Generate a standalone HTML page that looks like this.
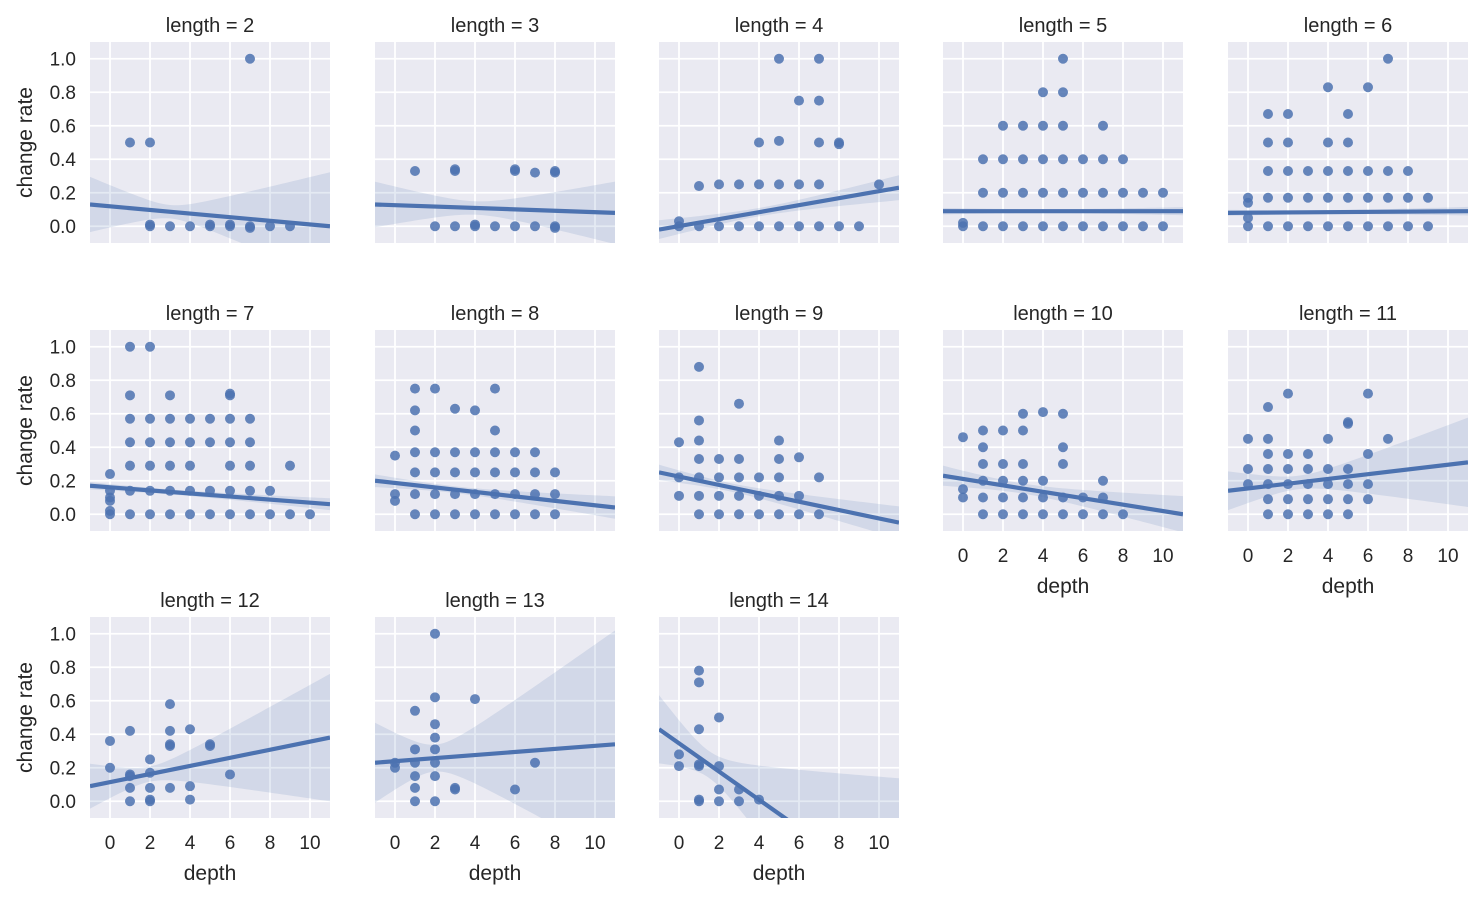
<!DOCTYPE html>
<html><head><meta charset="utf-8">
<style>
html,body{margin:0;padding:0;background:#fff;width:1483px;height:900px;overflow:hidden;}
svg{display:block;font-family:"Liberation Sans",Arial,sans-serif;}
</style></head>
<body>
<svg id="chart" width="1483" height="900" viewBox="0 0 1483 900"></svg>
<script>
// ---- data ----
const panelLengths = [2,3,4,5,6,7,8,9,10,11,12,13,14];
const xTicks = [0,2,4,6,8,10];
const yTicks = [0.0,0.2,0.4,0.6,0.8,1.0];
const yTickLabels = ["0.0","0.2","0.4","0.6","0.8","1.0"];
const xTickLabels = ["0","2","4","6","8","10"];
// regression line value at depth -1 and depth 11
const lineLeft  = [0.13,0.13,-0.02,0.09,0.08,0.17,0.20,0.25,0.23,0.14,0.09,0.23,0.43];
const lineRight = [0.00,0.08,0.23,0.09,0.09,0.06,0.04,-0.05,0.00,0.31,0.38,0.34,-0.58];
// CI: min half-width, spread slope, center depth
const ciMin    = [0.04,0.04,0.025,0.012,0.012,0.015,0.02,0.025,0.03,0.04,0.045,0.08,0.08];
const ciSlope  = [0.040,0.026,0.010,0.003,0.003,0.004,0.008,0.011,0.013,0.031,0.042,0.075,0.075];
const ciCenter = [3,4,4,4,3.5,3,3,2.5,3,2.5,2,2,1.5];
function row(y, xs){ return xs.map(x=>[x,y]); }
const points = [
 [[1,0.5],[2,0.5],[7,1.0],[2,0],[2,0.01],[3,0],[4,0],[5,0],[5,0.01],[6,0],[6,0.01],[7,0],[7,-0.01],[8,0],[9,0]],
 [[1,0.33],[3,0.33],[3,0.34],[6,0.33],[6,0.34],[7,0.32],[8,0.33],[8,0.32],[2,0],[3,0],[4,0],[5,0],[6,0],[7,0],[8,0],[8,-0.01],[4,0.01]],
 [[0,0],[0,0.03],[1,0],[2,0],[3,0],[4,0],[5,0],[6,0],[7,0],[8,0],[9,0],[1,0.24],[2,0.25],[3,0.25],[4,0.25],[5,0.25],[6,0.25],[7,0.25],[4,0.5],[5,0.51],[7,0.5],[8,0.5],[5,1.0],[7,1.0],[6,0.75],[7,0.75],[10,0.25],[8,0.49]],
 [].concat(row(0,[0,1,2,3,4,5,6,7,8,9,10]),row(0.2,[1,2,3,4,5,6,7,8,9,10]),row(0.4,[1,2,3,4,5,6,7,8]),row(0.6,[2,3,4,5,7]),[[4,0.8],[5,0.8],[5,1.0],[0,0.02]]),
 [].concat(row(0,[0,1,2,3,4,5,6,7,8,9]),row(0.17,[0,1,2,3,4,5,6,7,8,9]),row(0.33,[1,2,3,4,5,6,7,8]),row(0.5,[1,2,4,5]),[[1,0.67],[2,0.67],[5,0.67],[4,0.83],[6,0.83],[7,1.0],[0,0.14],[0,0.05]]),
 [].concat(row(0,[0,1,2,3,4,5,6,7,8,9,10]),row(0.14,[0,1,2,3,4,5,6,7,8]),row(0.29,[1,2,3,4,6,7,9]),row(0.43,[1,2,3,4,5,6,7]),row(0.57,[1,2,3,4,5,6,7]),[[1,0.71],[3,0.71],[6,0.71],[6,0.72],[1,1.0],[2,1.0],[0,0.24],[0,0.1],[0,0.08],[0,0.02]]),
 [].concat(row(0,[1,2,3,4,5,6,7,8]),row(0.12,[0,1,2,3,4,5,6,7,8]),row(0.25,[1,2,3,4,5,6,7,8]),row(0.37,[1,2,3,4,5,6,7]),[[1,0.5],[5,0.5],[1,0.62],[3,0.63],[4,0.62],[1,0.75],[2,0.75],[5,0.75],[0,0.35],[0,0.08]]),
 [].concat(row(0,[1,2,3,4,5,6,7]),row(0.11,[0,1,2,3,4,5,6]),row(0.22,[0,1,2,3,4,5,7]),row(0.33,[1,2,3,5]),[[1,0.44],[5,0.44],[1,0.56],[1,0.88],[3,0.66],[0,0.43],[6,0.34]]),
 [].concat(row(0,[1,2,3,4,5,6,7]),row(0.1,[0,1,2,3,4,5,6,7]),row(0.2,[1,2,3,4,7]),row(0.3,[1,2,3,5]),[[1,0.4],[5,0.4],[1,0.5],[2,0.5],[3,0.5],[3,0.6],[4,0.61],[5,0.6],[0,0.46],[0,0.15],[8,0]]),
 [].concat(row(0,[1,2,3,4,5]),row(0.09,[1,2,3,4,5,6]),row(0.18,[0,1,2,3,4,5,6]),row(0.27,[0,1,2,3,4,5]),row(0.36,[1,2,3,6]),[[0,0.45],[1,0.45],[4,0.45],[1,0.64],[2,0.72],[5,0.55],[5,0.54],[6,0.72],[7,0.45]]),
 [[0,0.36],[0,0.2],[1,0.42],[1,0.16],[1,0.08],[1,0],[1,0.15],[2,0.25],[2,0.17],[2,0.08],[2,0],[2,0.01],[3,0.58],[3,0.42],[3,0.33],[3,0.34],[3,0.08],[4,0.43],[4,0.09],[4,0.01],[5,0.33],[5,0.34],[6,0.16]],
 [[0,0.2],[0,0.23],[1,0.54],[1,0.31],[1,0.23],[1,0.15],[1,0.08],[1,0],[2,1.0],[2,0.62],[2,0.46],[2,0.38],[2,0.31],[2,0.23],[2,0.15],[2,0],[3,0.08],[3,0.07],[4,0.61],[6,0.07],[7,0.23]],
 [[0,0.28],[0,0.21],[1,0.78],[1,0.71],[1,0.43],[1,0.22],[1,0.21],[1,0],[1,0.01],[2,0.5],[2,0.21],[2,0.07],[2,0],[3,0.07],[3,0],[4,0.01]]
];
// ---- layout ----
const NS="http://www.w3.org/2000/svg";
const svg=document.getElementById('chart');
const colX=[90,375,659,943,1228], rowY=[42,330,617], PW=240, PH=201;
const XMIN=-1,XMAX=11,YMIN=-0.1,YMAX=1.1;
const C="#4c72b0";
function mk(tag,attrs,parent){const e=document.createElementNS(NS,tag);for(const k in attrs)e.setAttribute(k,attrs[k]);(parent||svg).appendChild(e);return e;}
panelLengths.forEach((len,i)=>{
  const r=Math.floor(i/5), c=i%5, x0=colX[c], y0=rowY[r];
  const sx=v=>x0+(v-XMIN)/(XMAX-XMIN)*PW;
  const sy=v=>y0+(YMAX-v)/(YMAX-YMIN)*PH;
  const g=mk('g',{});
  
  
  const clipId='clip'+i;
  const cp=mk('clipPath',{id:clipId},g); mk('rect',{x:x0,y:y0,width:PW,height:PH},cp);
  const bg=mk('rect',{x:x0,y:y0,width:PW,height:PH,fill:'#eaeaf2'},g);
  
  
  xTicks.forEach(t=>mk('line',{x1:sx(t),x2:sx(t),y1:y0,y2:y0+PH,stroke:'#fff','stroke-width':1.8},g));
  yTicks.forEach(t=>mk('line',{x1:x0,x2:x0+PW,y1:sy(t),y2:sy(t),stroke:'#fff','stroke-width':1.8},g));
  const title=mk('text',{x:x0+PW/2,y:y0-10,'text-anchor':'middle','font-size':20,fill:'#262626'},g);
  title.textContent='length = '+len;
  
  
  const inner=mk('g',{'clip-path':'url(#'+clipId+')'},g);
  const a=lineLeft[i], b=(lineRight[i]-lineLeft[i])/(XMAX-XMIN);
  const f=x=>a+b*(x-XMIN);
  const h=x=>Math.sqrt(ciMin[i]*ciMin[i]+Math.pow(ciSlope[i]*(x-ciCenter[i]),2));
  let up=[],lo=[];
  for(let k=0;k<=60;k++){const x=XMIN+(XMAX-XMIN)*k/60;up.push(sx(x)+','+sy(f(x)+h(x)));lo.unshift(sx(x)+','+sy(f(x)-h(x)));}
  const band=mk('polygon',{points:up.concat(lo).join(' '),fill:C,'fill-opacity':0.15},inner);
  
  
  points[i].forEach(p=>{
    const d=mk('circle',{cx:sx(p[0]),cy:sy(p[1]),r:5,fill:C,'fill-opacity':0.85},inner);
    
    
  });
  const ln=mk('line',{x1:sx(XMIN),y1:sy(f(XMIN)),x2:sx(XMAX),y2:sy(f(XMAX)),stroke:C,'stroke-width':4.2},inner);
  
  
  if(c===0){
    yTicks.forEach((t,k)=>{const tx=mk('text',{x:x0-14,y:sy(t)+6.5,'text-anchor':'end','font-size':19,fill:'#262626'},g);tx.textContent=yTickLabels[k];
      
      });
    const yl=mk('text',{x:0,y:0,transform:'translate(32,'+(y0+PH/2)+') rotate(-90)','text-anchor':'middle','font-size':21,fill:'#262626'},g);
    yl.textContent='change rate';
    
    
  }
  const bottom = r===2 || (r===1 && c>=3);
  if(bottom){
    xTicks.forEach((t,k)=>{const tx=mk('text',{x:sx(t),y:y0+PH+31,'text-anchor':'middle','font-size':19,fill:'#262626'},g);tx.textContent=xTickLabels[k];
      
      });
    const xl=mk('text',{x:x0+PW/2,y:y0+PH+62,'text-anchor':'middle','font-size':21,fill:'#262626'},g);
    xl.textContent='depth';
    
    
  }
});
</script>
</body></html>
